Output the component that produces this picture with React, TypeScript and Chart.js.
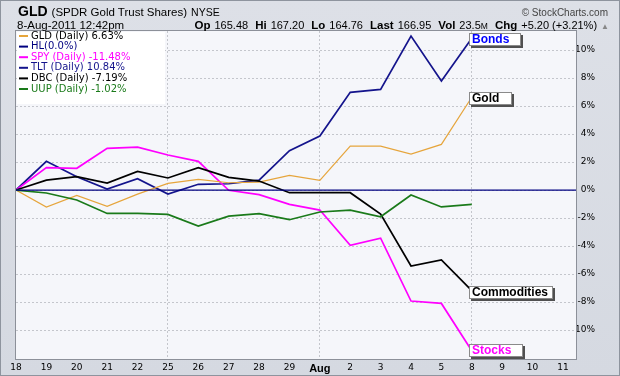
import React, { useEffect, useRef } from 'react';
import { Chart, registerables } from 'chart.js';

Chart.register(...registerables);

// ---- data ----
const dateLabels = ['18', '19', '20', '21', '22', '25', '26', '27', '28', '29', 'Aug', '2', '3', '4', '5', '8', '9', '10', '11'];
const gridDates = ['25', 'Aug', '8'];
const gldValues = [0, -1.21, -0.38, -1.17, -0.29, 0.48, 0.76, 0.52, 0.57, 1.05, 0.69, 3.14, 3.13, 2.57, 3.26, 6.63];
const spyValues = [0, 1.6, 1.55, 2.98, 3.07, 2.5, 2.05, -0.02, -0.33, -1.02, -1.43, -3.95, -3.44, -7.93, -8.1, -11.48];
const tltValues = [0, 2.05, 0.95, 0.07, 0.81, -0.29, 0.41, 0.45, 0.71, 2.81, 3.86, 6.98, 7.19, 11.0, 7.79, 10.84];
const dbcValues = [0, 0.71, 0.95, 0.5, 1.33, 0.86, 1.6, 0.9, 0.64, -0.19, -0.19, -0.19, -1.72, -5.43, -5.0, -7.19];
const uupValues = [0, -0.21, -0.71, -1.67, -1.67, -1.74, -2.57, -1.86, -1.69, -2.12, -1.57, -1.43, -1.91, -0.36, -1.21, -1.02];
const hlValues = [0, 0];
const yTickValues = [-10, -8, -6, -4, -2, 0, 2, 4, 6, 8, 10];
const legendItems = [
  { text: 'GLD (Daily) 6.63%', line: '#e6a53c', color: '#000000' },
  { text: 'HL(0.0%)', line: '#000080', color: '#000080' },
  { text: 'SPY (Daily) -11.48%', line: '#ff00ff', color: '#ff00ff' },
  { text: 'TLT (Daily) 10.84%', line: '#14148c', color: '#14148c' },
  { text: 'DBC (Daily) -7.19%', line: '#000000', color: '#000000' },
  { text: 'UUP (Daily) -1.02%', line: '#1a7a1a', color: '#1a7a1a' },
];
const quoteItems = [
  { label: 'Op', value: '165.48' },
  { label: 'Hi', value: '167.20' },
  { label: 'Lo', value: '164.76' },
  { label: 'Last', value: '166.95' },
  { label: 'Vol', value: '23.5', unit: 'M' },
  { label: 'Chg', value: '+5.20 (+3.21%)' },
];

// axis bounds
const xMin = 0;
const xMax = 18.43;
const yMin = -12.07;
const yMax = 11.36;

const tagWidths: Record<string, number> = { Bonds: 52, Gold: 43, Commodities: 84, Stocks: 54 };

const toPoints = (vals: number[]) => vals.map((v, i) => ({ x: i, y: v }));

const bgPlugin = {
  id: 'plotBg',
  beforeDraw(chart: any) {
    const { ctx, chartArea: a } = chart;
    ctx.save();
    ctx.fillStyle = '#f5f6fa';
    ctx.fillRect(a.left, a.top, a.right - a.left, a.bottom - a.top);
    ctx.restore();
  },
};

const legendPlugin = {
  id: 'customLegend',
  beforeDatasetsDraw(chart: any) {
    const { ctx, chartArea: a } = chart;
    ctx.save();
    ctx.fillStyle = '#ffffff';
    ctx.fillRect(a.left + 1, a.top + 1, 148, 72);
    ctx.font = '10px "DejaVu Sans"';
    ctx.textBaseline = 'middle';
    legendItems.forEach((it, i) => {
      const y = a.top + 5 + i * 10.6;
      ctx.strokeStyle = it.line;
      ctx.lineWidth = 2;
      ctx.beginPath();
      ctx.moveTo(a.left + 3, y);
      ctx.lineTo(a.left + 12, y);
      ctx.stroke();
      ctx.fillStyle = it.color;
      ctx.fillText(it.text, a.left + 15, y);
    });
    ctx.restore();
  },
};

const tagPlugin = {
  id: 'endTags',
  afterDatasetsDraw(chart: any) {
    const { ctx, chartArea: a } = chart;
    ctx.save();
    chart.data.datasets.forEach((ds: any, i: number) => {
      if (!ds.tag) return;
      const meta = chart.getDatasetMeta(i);
      const pt = meta.data[meta.data.length - 1];
      const w = tagWidths[ds.tag] || 50;
      const h = 13;
      const x = Math.round(pt.x) - 3;
      let y = Math.round(pt.y) - 5;
      if (y + h > a.bottom - 2) y = a.bottom - 2 - h;
      ctx.fillStyle = '#505050';
      ctx.fillRect(x + 2, y + 2, w, h);
      ctx.fillStyle = '#ffffff';
      ctx.fillRect(x, y, w, h);
      ctx.strokeStyle = '#8a8a8a';
      ctx.lineWidth = 1;
      ctx.strokeRect(x + 0.5, y + 0.5, w - 1, h - 1);
      ctx.fillStyle = ds.tagColor;
      ctx.font = 'bold 12px "Liberation Sans"';
      ctx.textBaseline = 'middle';
      ctx.fillText(ds.tag, x + 3, y + h / 2 + 0.5);
    });
    ctx.restore();
  },
};

const borderPlugin = {
  id: 'plotBorder',
  afterDraw(chart: any) {
    const { ctx, chartArea: a } = chart;
    ctx.save();
    ctx.strokeStyle = '#8c9099';
    ctx.lineWidth = 1;
    ctx.strokeRect(a.left - 0.5, a.top - 0.5, a.right - a.left + 1, a.bottom - a.top + 1);
    ctx.restore();
  },
};

const hf = '"Liberation Sans", Arial, sans-serif';
const abs = (left: number, top: number, extra: any = {}) => ({
  position: 'absolute' as const, left, top, fontFamily: hf, fontSize: 11.5, lineHeight: '14px', whiteSpace: 'nowrap' as const, color: '#000', ...extra,
});

export default function App() {
  const ref = useRef<HTMLCanvasElement>(null);

  useEffect(() => {
    const canvas = ref.current;
    if (!canvas) return;
    const chart = new Chart(canvas, {
      type: 'line',
      data: {
        datasets: [
          { label: 'HL', data: [{ x: xMin, y: hlValues[0] }, { x: xMax, y: hlValues[1] }], borderColor: '#000080', borderWidth: 1.3 },
          { label: 'UUP', data: toPoints(uupValues), borderColor: '#1a7a1a', borderWidth: 1.7 },
          { label: 'DBC', data: toPoints(dbcValues), borderColor: '#000000', borderWidth: 1.7, tag: 'Commodities', tagColor: '#000000' },
          { label: 'GLD', data: toPoints(gldValues), borderColor: '#e6a53c', borderWidth: 1.2, tag: 'Gold', tagColor: '#000000' },
          { label: 'SPY', data: toPoints(spyValues), borderColor: '#ff00ff', borderWidth: 1.7, tag: 'Stocks', tagColor: '#ff00ff' },
          { label: 'TLT', data: toPoints(tltValues), borderColor: '#14148c', borderWidth: 1.7, tag: 'Bonds', tagColor: '#0000ff' },
        ] as any,
      },
      options: {
        animation: false,
        responsive: false,
        devicePixelRatio: 1,
        layout: { padding: { left: 16, top: 31, right: 25, bottom: 0 } },
        elements: { point: { radius: 0 }, line: { tension: 0 } },
        plugins: { legend: { display: false }, tooltip: { enabled: false } },
        scales: {
          x: {
            type: 'linear',
            min: xMin,
            max: xMax,
            afterBuildTicks: (s: any) => { s.ticks = dateLabels.map((_, i) => ({ value: i })); },
            afterFit: (s: any) => { s.height = 17; },
            grid: {
              drawTicks: false,
              lineWidth: 1,
              color: (c: any) => (c.tick && gridDates.includes(dateLabels[c.tick.value]) ? '#c4c6cc' : 'rgba(0,0,0,0)'),
            },
            border: { display: false, dash: [2, 2] },
            ticks: {
              padding: 3,
              autoSkip: false,
              maxRotation: 0,
              color: '#000000',
              callback: (v: any) => dateLabels[v] ?? '',
              font: (c: any) => (c.tick && dateLabels[c.tick.value] === 'Aug'
                ? { family: '"Liberation Sans"', size: 11, weight: 'bold' }
                : { family: '"DejaVu Sans"', size: 9 }),
            },
          },
          y: {
            position: 'right',
            min: yMin,
            max: yMax,
            afterBuildTicks: (s: any) => { s.ticks = yTickValues.map((v) => ({ value: v })); },
            afterFit: (s: any) => { s.width = 19; },
            grid: { drawTicks: false, color: '#c4c6cc', lineWidth: 1 },
            border: { display: false, dash: [2, 2] },
            ticks: {
              padding: 7,
              crossAlign: 'far',
              color: '#000000',
              font: { family: '"DejaVu Sans"', size: 9 },
              callback: (v: any) => `${v}%`,
            },
          },
        } as any,
      },
      plugins: [bgPlugin, legendPlugin, tagPlugin, borderPlugin],
    });
    return () => chart.destroy();
  }, []);

  return (
    <div
      style={{
        position: 'fixed',
        left: 0,
        top: 0,
        width: 620,
        height: 376,
        boxSizing: 'border-box',
        border: '1px solid #8e949e',
        background: 'linear-gradient(to bottom, #dde0e7 0%, #d5d9e1 100%)',
        overflow: 'hidden',
      }}
    >
      <canvas ref={ref} width={620} height={376} style={{ position: 'absolute', left: -1, top: -1, width: 620, height: 376 }} />
      <div style={{ ...abs(17, 2, { lineHeight: '16px' }), display: 'flex', alignItems: 'baseline', gap: 4 }}>
        <span style={{ fontSize: 14, fontWeight: 'bold' }}>GLD</span>
        <span style={{ fontSize: 11.5 }}>(SPDR Gold Trust Shares)</span>
        <span style={{ fontSize: 10.5 }}>NYSE</span>
      </div>
      <span style={{ ...abs(0, 4, { fontSize: 10, color: '#444', lineHeight: '16px' }), left: 'auto', right: 11 }}>© StockCharts.com</span>
      <span style={abs(16, 17)}>8-Aug-2011 12:42pm</span>
      <div
        style={{
          ...abs(0, 17, { fontSize: 11 }),
          left: 'auto',
          right: 10,
          display: 'flex',
          alignItems: 'baseline',
          gap: 7,
        }}
      >
        {quoteItems.map((q) => (
          <span key={q.label} style={{ display: 'flex', alignItems: 'baseline', gap: 4 }}>
            <b style={{ fontSize: 11.5 }}>{q.label}</b>
            <span>
              {q.value}
              {q.unit ? <span style={{ fontSize: 8.5 }}>{q.unit}</span> : null}
            </span>
          </span>
        ))}
        <span style={{ fontSize: 8, color: '#888', marginLeft: -3 }}>▲</span>
      </div>
    </div>
  );
}
